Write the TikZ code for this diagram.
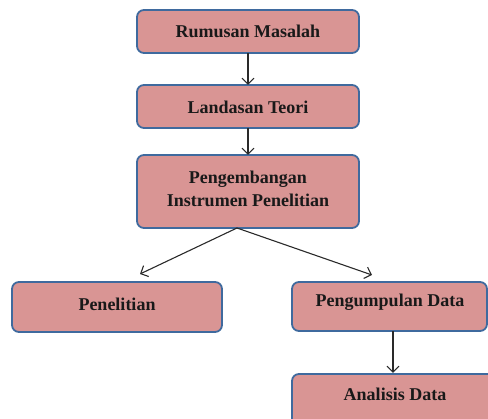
\documentclass[tikz,border=0pt]{standalone}
\usepackage{fontspec}
\setmainfont{Liberation Serif}
\usetikzlibrary{arrows.meta}
\definecolor{boxfill}{HTML}{D99594}
\definecolor{boxline}{HTML}{3F6A9E}
\definecolor{arrowc}{HTML}{2A2A2A}
\tikzset{
  flowbox/.style={draw=boxline, fill=boxfill, line width=1.8pt, rounded corners=7pt},
  flowlabel/.style={font=\bfseries\fontsize{18}{23}\selectfont, align=center, text=black!90},
  flowarrow/.style={draw=arrowc, line width=1.1pt, -{Straight Barb[length=6pt,width=12pt]}}
}
\begin{document}
\begin{tikzpicture}[x=1pt,y=-1pt]
\useasboundingbox (0,0) rectangle (488,419);
\clip (0,0) rectangle (488,419);
% boxes
\draw[flowbox] (137,10) rectangle (359,53);
\node[flowlabel] (rm) at (248,31.5) {Rumusan Masalah};
\draw[flowbox] (137,85) rectangle (359,128);
\node[flowlabel] (lt) at (248,107) {Landasan Teori};
\draw[flowbox] (137,155) rectangle (359,228);
\node[flowlabel] (pi) at (248,189) {Pengembangan\\Instrumen Penelitian};
\draw[flowbox] (12,282) rectangle (222,332);
\node[flowlabel] (pn) at (117,304) {Penelitian};
\draw[flowbox] (292,282) rectangle (487,331);
\node[flowlabel] (pd) at (390,302) {Pengumpulan Data};
\draw[flowbox] (292,374) rectangle (495,430);
\node[flowlabel] (ad) at (395,394) {Analisis Data};
% anchor points
\coordinate (rmB) at (248,53);
\coordinate (ltT) at (248,85);
\coordinate (ltB) at (248,128);
\coordinate (piT) at (248,155);
\coordinate (piB) at (237,228);
\coordinate (pnT) at (140,274);
\coordinate (pdT) at (372,275);
\coordinate (pdB) at (393,331);
\coordinate (adT) at (393,373);
% arrows
\draw[flowarrow] (rmB) -- (ltT);
\draw[flowarrow] (ltB) -- (piT);
\draw[flowarrow] (piB) -- (pnT);
\draw[flowarrow] (piB) -- (pdT);
\draw[flowarrow] (pdB) -- (adT);
\end{tikzpicture}
\end{document}
